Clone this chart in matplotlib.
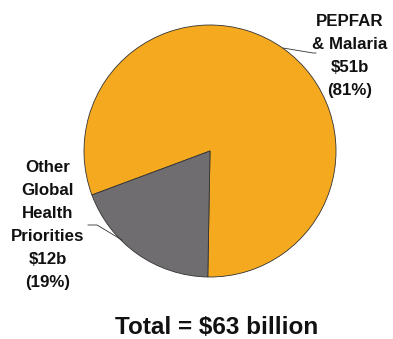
import matplotlib
matplotlib.use("Agg")
import matplotlib.pyplot as plt

# data
categories = ["PEPFAR & Malaria", "Other Global Health Priorities"]
amounts = [51, 12]  # $ billion
colors = ["#F5A91E", "#6F6D6F"]

pepfar_label = ["PEPFAR", "& Malaria", "$51b", "(81%)"]
other_label = ["Other", "Global", "Health", "Priorities", "$12b", "(19%)"]
total_label = "Total = $63 billion"

W, H = 393, 339
plt.rcParams["font.family"] = ["Liberation Sans", "DejaVu Sans"]

fig = plt.figure(figsize=(W / 100, H / 100), dpi=100)
ax = fig.add_axes([0, 0, 1, 1])

ax.pie(amounts, colors=colors, startangle=269, counterclock=True,
       center=(210, H - 151), radius=126,
       wedgeprops=dict(edgecolor="#333333", linewidth=0.6))
ax.set_xlim(0, W)
ax.set_ylim(0, H)
ax.set_aspect("equal")
ax.axis("off")

# leader lines
ax.plot([283, 313, 316], [H - 48, H - 53, H - 53], color="#333333", lw=0.6)
ax.plot([88, 97, 122], [H - 225, H - 225, H - 240], color="#333333", lw=0.6)

for i, s in enumerate(pepfar_label):
    ax.text(350, H - (21 + 23.2 * i), s, ha="center", va="center",
            fontsize=12.2, fontweight="bold", color="#111111")

for i, s in enumerate(other_label):
    ax.text(48, H - (167 + 23.2 * i), s, ha="center", va="center",
            fontsize=12.2, fontweight="bold", color="#111111")

ax.text(217, H - 327, total_label, ha="center", va="center",
        fontsize=17.5, fontweight="bold", color="#111111")

fig.savefig("out.png", dpi=100)
